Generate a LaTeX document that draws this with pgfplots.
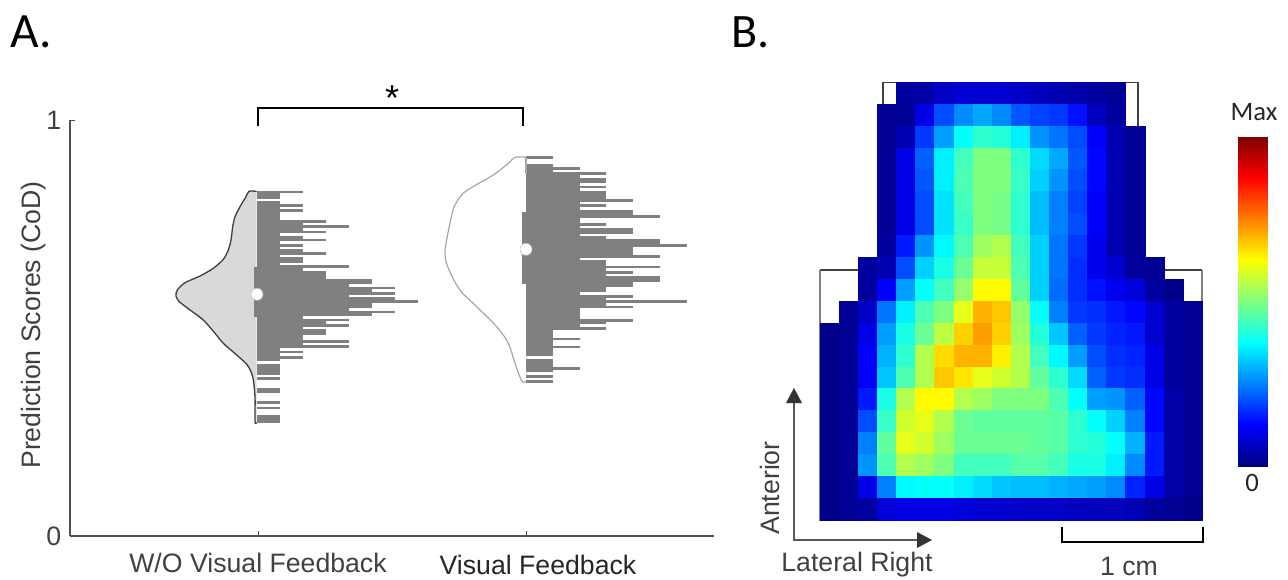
\documentclass[border=0pt]{standalone}
\usepackage{fontspec}
\setmainfont{Liberation Sans}
\newfontfamily\calfont{Carlito}
\usepackage{pgfplots}
\pgfplotsset{compat=1.18}
\definecolor{histgray}{HTML}{808080}
\definecolor{axgray}{HTML}{505050}
\definecolor{txtgray}{HTML}{404040}
\pgfplotsset{hist/.style={hide axis,scale only axis,width=483pt,height=312pt,ymin=0,ymax=1,clip=false}}
\begin{document}
\begin{tikzpicture}[x=0.75pt,y=-0.75pt]
\path[use as bounding box] (0,0) rectangle (1288,579);
% histogram, no visual feedback
\begin{axis}[hist,at={(52.5pt,-402pt)},anchor=south west,xmin=-8.130,xmax=19.87]
\addplot[xcomb,no markers,histgray,line width=2.05pt] coordinates {
(2,.8269)(1,.8205)(1,.8141)(1,.8013)(2,.7949)(1,.7885)(2,.7820)(1,.7756)(1,.7692)(1,.7628)
(3,.7564)(2,.7500)(4,.7436)(2,.7372)(3,.7308)(1,.7244)(2,.7179)(3,.7115)(1,.7051)(2,.6987)
(1,.6923)(2,.6859)(3,.6795)(1,.6731)(2,.6667)(2,.6603)(1,.6538)(4,.6474)(2,.6410)(3,.6346)
(3,.6282)(3,.6218)(5,.6154)(5,.6090)(4,.6026)(6,.5962)(5,.5897)(6,.5833)(4,.5769)(6,.5705)
(7,.5641)(5,.5577)(5,.5513)(4,.5449)(6,.5385)(5,.5321)(2,.5256)(4,.5192)(3,.5128)(4,.5064)
(2,.5000)(3,.4936)(3,.4872)(2,.4808)(2,.4744)(4,.4679)(2,.4615)(4,.4551)(1,.4487)(2,.4423)
(1,.4359)(2,.4295)(1,.4231)(1,.4103)(1,.4038)(1,.3974)(1,.3910)(1,.3782)(1,.3526)(1,.3462)
(1,.3205)(1,.3077)(1,.2885)(1,.2821)(1,.2756)};
\end{axis}
% histogram, visual feedback
\begin{axis}[hist,at={(52.5pt,-402pt)},anchor=south west,xmin=-17.015,xmax=7.015]
\addplot[xcomb,no markers,histgray,line width=2.05pt] coordinates {
(1,.9095)(1,.8903)(2,.8839)(1,.8775)(3,.8710)(2,.8646)(3,.8582)(3,.8518)(2,.8454)(3,.8390)
(2,.8326)(3,.8262)(3,.8198)(3,.8134)(4,.8069)(2,.8005)(3,.7941)(2,.7877)(4,.7813)(4,.7749)
(5,.7685)(2,.7621)(2,.7557)(3,.7493)(2,.7428)(4,.7364)(4,.7300)(2,.7236)(3,.7172)(5,.7108)
(5,.7044)(6,.6980)(4,.6916)(4,.6852)(4,.6787)(5,.6723)(2,.6659)(3,.6595)(3,.6531)(5,.6467)
(3,.6403)(4,.6339)(3,.6275)(5,.6211)(5,.6146)(4,.6082)(4,.6018)(3,.5954)(3,.5890)(2,.5826)
(4,.5762)(3,.5698)(6,.5634)(3,.5570)(4,.5505)(2,.5441)(2,.5377)(2,.5313)(2,.5249)(4,.5185)
(3,.5121)(2,.5057)(3,.4993)(1,.4929)(1,.4864)(1,.4800)(2,.4736)(1,.4672)(1,.4608)(2,.4544)
(1,.4480)(1,.4416)(1,.4352)(1,.4223)(1,.4159)(1,.4095)(2,.4031)(1,.3967)(1,.3839)(1,.3711)};
\end{axis}
% main axis: violins, quartile bars, medians
\begin{axis}[at={(52.5pt,-402pt)},anchor=south west,scale only axis,width=483pt,height=312pt,
  xmin=.2985,xmax=2.7015,ymin=0,ymax=1,axis lines=left,axis line style={-,axgray,line width=.9pt},
  xtick={1,2},xticklabels={},ytick={0,1},tick align=inside,major tick length=4pt,
  tick style={axgray,line width=.6pt},
  yticklabel style={font=\fontsize{20}{20}\selectfont,text=txtgray,xshift=-3pt},
  /pgf/number format/assume math mode=true,clip=false]
\addplot[smooth,tension=.45,fill=black!15,draw=black!75,line width=1pt] coordinates {
(.9950,.8286)(.9664,.8286)(.9552,.8157)(.9328,.7916)(.9142,.7676)(.9056,.7435)(.8993,.7115)(.8892,.6875)
(.8706,.6651)(.8332,.6435)(.7836,.6250)(.7276,.6089)(.6989,.5913)(.6940,.5769)(.7063,.5632)(.7463,.5433)
(.7959,.5192)(.8396,.4873)(.8706,.4632)(.9205,.4351)(.9601,.4111)(.9802,.3829)(.9888,.3349)(.9888,.2748)(.9950,.2724)};
\addplot[smooth,tension=.6,draw=black!35,line width=.9pt] coordinates {
(2,.9103)(1.9590,.9103)(1.9340,.8959)(1.8780,.8678)(1.8160,.8450)(1.7660,.8238)(1.7351,.7957)(1.7215,.7676)
(1.7063,.7195)(1.6978,.6796)(1.7101,.6435)(1.7537,.5913)(1.8160,.5512)(1.8907,.5031)(1.9340,.4632)(1.9590,.4151)(1.9840,.3733)(2,.3718)};
\addplot[black!35,line width=.9pt] coordinates {(2,.9103)(2,.87)};
\addplot[histgray,line width=2.9pt] coordinates {(.9920,.6459)(.9920,.5272)};
\addplot[histgray,line width=2.9pt] coordinates {(1.9937,.7788)(1.9937,.6058)};
\addplot[only marks,mark=*,mark size=4.5pt,mark options={fill=white,draw=black!25,line width=.4pt}] coordinates {(.9963,.5810)(2,.6891)};
\end{axis}
% panel B heat map
\begin{axis}[at={(615pt,-390pt)},anchor=south west,scale only axis,width=286.5pt,height=328.5pt,hide axis,clip=false,
  xmin=-.5,xmax=19.5,ymin=-.5,ymax=19.5,y dir=reverse,colormap/jet,point meta min=0,point meta max=1]
\addplot[scatter,only marks,scatter src=explicit,mark=square*,mark size=7.16pt,
  scatter/use mapped color={draw=mapped color,fill=mapped color},
  mark options={yscale=1.1466,line width=.3pt}] table[x=c,y=r,meta=v,row sep=\\] {
c r v\\
4 0 .03\\5 0 .04\\6 0 .07\\7 0 .08\\8 0 .08\\9 0 .08\\10 0 .07\\11 0 .06\\12 0 .05\\13 0 .04\\14 0 .03\\15 0 .02\\
3 1 .02\\4 1 .02\\5 1 .1\\6 1 .2\\7 1 .26\\8 1 .29\\9 1 .26\\10 1 .21\\11 1 .19\\12 1 .18\\13 1 .14\\14 1 .06\\15 1 .03\\
3 2 .02\\4 2 .05\\5 2 .18\\6 2 .28\\7 2 .38\\8 2 .42\\9 2 .41\\10 2 .36\\11 2 .27\\12 2 .24\\13 2 .2\\14 2 .12\\15 2 .05\\16 2 .02\\
3 3 .02\\4 3 .1\\5 3 .22\\6 3 .36\\7 3 .44\\8 3 .5\\9 3 .5\\10 3 .42\\11 3 .34\\12 3 .29\\13 3 .21\\14 3 .13\\15 3 .05\\16 3 .02\\
3 4 .02\\4 4 .1\\5 4 .21\\6 4 .36\\7 4 .45\\8 4 .5\\9 4 .5\\10 4 .43\\11 4 .33\\12 4 .27\\13 4 .2\\14 4 .13\\15 4 .05\\16 4 .02\\
3 5 .02\\4 5 .1\\5 5 .2\\6 5 .35\\7 5 .44\\8 5 .5\\9 5 .49\\10 5 .42\\11 5 .31\\12 5 .25\\13 5 .19\\14 5 .12\\15 5 .05\\16 5 .02\\
3 6 .02\\4 6 .1\\5 6 .2\\6 6 .35\\7 6 .43\\8 6 .5\\9 6 .49\\10 6 .42\\11 6 .31\\12 6 .25\\13 6 .2\\14 6 .12\\15 6 .05\\16 6 .02\\
3 7 .03\\4 7 .15\\5 7 .27\\6 7 .37\\7 7 .45\\8 7 .53\\9 7 .55\\10 7 .44\\11 7 .33\\12 7 .24\\13 7 .18\\14 7 .11\\15 7 .05\\16 7 .02\\
2 8 .03\\3 8 .05\\4 8 .2\\5 8 .33\\6 8 .4\\7 8 .48\\8 8 .57\\9 8 .57\\10 8 .45\\11 8 .33\\12 8 .24\\13 8 .17\\14 8 .11\\15 8 .08\\16 8 .03\\17 8 .02\\
2 9 .03\\3 9 .12\\4 9 .28\\5 9 .38\\6 9 .44\\7 9 .52\\8 9 .63\\9 9 .63\\10 9 .47\\11 9 .33\\12 9 .23\\13 9 .17\\14 9 .14\\15 9 .11\\16 9 .09\\17 9 .03\\18 9 .01\\
1 10 .02\\2 10 .07\\3 10 .24\\4 10 .36\\5 10 .45\\6 10 .5\\7 10 .6\\8 10 .7\\9 10 .68\\10 10 .52\\11 10 .38\\12 10 .25\\13 10 .18\\14 10 .17\\15 10 .15\\16 10 .13\\17 10 .08\\18 10 .03\\19 10 .02\\
0 11 .01\\1 11 .02\\2 11 .1\\3 11 .28\\4 11 .4\\5 11 .48\\6 11 .56\\7 11 .67\\8 11 .72\\9 11 .67\\10 11 .53\\11 11 .41\\12 11 .32\\13 11 .22\\14 11 .18\\15 11 .16\\16 11 .15\\17 11 .08\\18 11 .03\\19 11 .02\\
0 12 .01\\1 12 .02\\2 12 .12\\3 12 .3\\4 12 .42\\5 12 .55\\6 12 .66\\7 12 .7\\8 12 .7\\9 12 .64\\10 12 .55\\11 12 .44\\12 12 .37\\13 12 .28\\14 12 .2\\15 12 .17\\16 12 .16\\17 12 .1\\18 12 .03\\19 12 .02\\
0 13 .01\\1 13 .02\\2 13 .12\\3 13 .32\\4 13 .45\\5 13 .55\\6 13 .68\\7 13 .65\\8 13 .6\\9 13 .58\\10 13 .55\\11 13 .47\\12 13 .42\\13 13 .34\\14 13 .22\\15 13 .18\\16 13 .17\\17 13 .1\\18 13 .03\\19 13 .02\\
0 14 .01\\1 14 .02\\2 14 .15\\3 14 .4\\4 14 .55\\5 14 .63\\6 14 .63\\7 14 .55\\8 14 .53\\9 14 .5\\10 14 .5\\11 14 .5\\12 14 .45\\13 14 .38\\14 14 .28\\15 14 .27\\16 14 .22\\17 14 .13\\18 14 .04\\19 14 .02\\
0 15 .01\\1 15 .02\\2 15 .2\\3 15 .43\\4 15 .58\\5 15 .6\\6 15 .55\\7 15 .48\\8 15 .47\\9 15 .47\\10 15 .47\\11 15 .47\\12 15 .46\\13 15 .42\\14 15 .38\\15 15 .33\\16 15 .25\\17 15 .13\\18 15 .04\\19 15 .02\\
0 16 .01\\1 16 .02\\2 16 .25\\3 16 .47\\4 16 .6\\5 16 .58\\6 16 .53\\7 16 .48\\8 16 .48\\9 16 .48\\10 16 .48\\11 16 .47\\12 16 .46\\13 16 .42\\14 16 .41\\15 16 .38\\16 16 .3\\17 16 .15\\18 16 .04\\19 16 .02\\
0 17 .01\\1 17 .02\\2 17 .27\\3 17 .45\\4 17 .55\\5 17 .53\\6 17 .5\\7 17 .44\\8 17 .44\\9 17 .44\\10 17 .46\\11 17 .46\\12 17 .44\\13 17 .4\\14 17 .4\\15 17 .36\\16 17 .26\\17 17 .15\\18 17 .04\\19 17 .02\\
0 18 .01\\1 18 .02\\2 18 .1\\3 18 .25\\4 18 .37\\5 18 .38\\6 18 .38\\7 18 .36\\8 18 .34\\9 18 .32\\10 18 .31\\11 18 .31\\12 18 .3\\13 18 .29\\14 18 .28\\15 18 .26\\16 18 .16\\17 18 .1\\18 18 .04\\19 18 .02\\
0 19 .01\\1 19 .02\\2 19 .03\\3 19 .09\\4 19 .1\\5 19 .1\\6 19 .1\\7 19 .09\\8 19 .08\\9 19 .08\\10 19 .07\\11 19 .07\\12 19 .07\\13 19 .06\\14 19 .06\\15 19 .06\\16 19 .05\\17 19 .03\\18 19 .02\\19 19 .01\\
};
\addplot[black!75,line width=1pt] coordinates {(-.5,8.08)(2.8,8.08)(2.8,-.47)(16.15,-.47)(16.15,8.08)(19.5,8.08)};
\addplot[black!50,line width=1.2pt] coordinates {(19.5,8.08)(19.5,19.5)(-.5,19.5)(-.5,8.08)};
\end{axis}
% colour scale
\begin{axis}[at={(928.5pt,-349.5pt)},anchor=south west,scale only axis,width=21.75pt,height=246.75pt,hide axis,
  xmin=0,xmax=1,ymin=0,ymax=1,colormap/jet,point meta min=0,point meta max=1]
\addplot[surf,shader=interp,mesh/rows=6,mesh/cols=2,point meta=y] coordinates {
(0,0)(1,0)
(0,.125)(1,.125)
(0,.375)(1,.375)
(0,.625)(1,.625)
(0,.875)(1,.875)
(0,1)(1,1)};
\end{axis}
% text and annotations
\node[anchor=base west,font=\calfont\fontsize{37}{37}\selectfont] at (6,47) {A.};
\node[anchor=base west,font=\calfont\fontsize{36}{36}\selectfont] at (727,47) {B.};
\draw[black,line width=1.8pt] (258,126)--(258,108)--(523,108)--(523,126);
\node[font=\fontsize{27}{27}\selectfont] at (392,98) {*};
\node[rotate=90,text=txtgray,font=\fontsize{20}{20}\selectfont] at (34,325) {Prediction Scores (CoD)};
\node[text=txtgray,font=\fontsize{20}{20}\selectfont] at (258,563) {W/O Visual Feedback};
\node[text=black!85,font=\fontsize{20}{20}\selectfont] at (538,565) {Visual Feedback};
\node[rotate=90,text=txtgray,font=\fontsize{20}{20}\selectfont] at (770,488) {Anterior};
\node[text=txtgray,font=\fontsize{20}{20}\selectfont] at (857,565) {Lateral Right};
\node[text=txtgray,font=\fontsize{20}{20}\selectfont] at (1129,566) {1 cm};
\node[text=black!85,font=\calfont\fontsize{20}{20}\selectfont] at (1254,112) {Max};
\node[text=black!85,font=\calfont\fontsize{20}{20}\selectfont] at (1252,483) {0};
\draw[black!65,line width=.9pt] (794,400)--(794,540)--(920,540);
\fill[black!80] (794,388)--(786,403)--(802,403)--cycle;
\fill[black!80] (932,540)--(917,532)--(917,548)--cycle;
\draw[black,line width=1.2pt] (1062,527)--(1062,542)--(1203,542)--(1203,527);
\end{tikzpicture}
\end{document}
